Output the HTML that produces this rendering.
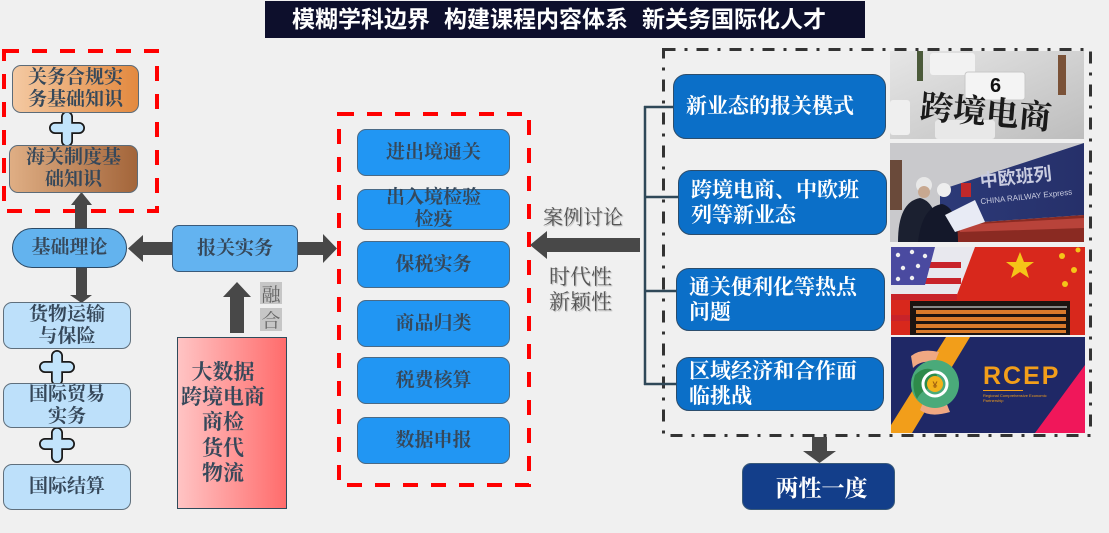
<!DOCTYPE html>
<html><head><meta charset="utf-8">
<style>
*{margin:0;padding:0;box-sizing:border-box}
body{width:1109px;height:533px;background:#f0f0f0;position:relative;overflow:hidden;font-family:"Liberation Serif","Noto Serif CJK SC",serif}
.b{position:absolute;display:flex;align-items:center;justify-content:center;text-align:center;font-weight:bold}
.dk{color:#36485a;font-size:19px;line-height:22px}
.or{background:linear-gradient(90deg,#f4c9a2,#e3893f);border:1.5px solid #5c6b78;border-radius:9px}
.br{background:linear-gradient(90deg,#dfae84,#a3653a);border:1.5px solid #5c6b78;border-radius:9px}
.lb{background:#bde0fa;border:1.5px solid #5f6f7c;border-radius:9px}
.mb{background:#2196f3;border:1px solid #4a6a86;border-radius:9px}
.rb{background:#0b6fc8;border:1.5px solid #2c4d6c;border-radius:13px;color:#fff;font-size:21px;line-height:25px;justify-content:flex-start;text-align:left;padding-left:12px}
.gl{position:absolute;color:#555;font-size:20px;line-height:24px;text-shadow:1px 1px 1px #b0b0b0;font-weight:normal}
svg{position:absolute;left:0;top:0}
</style></head><body>

<div style="position:absolute;left:265px;top:1px;width:600px;height:37px;background:#0d0f2c"></div>
<div style="position:absolute;left:292px;top:1px;height:37px;line-height:37px;color:#fff;font-family:'Liberation Sans','Noto Sans CJK SC',sans-serif;font-weight:bold;font-size:23px;white-space:nowrap">模糊学科边界<span style="margin-left:14px">构建课程内容体系</span><span style="margin-left:14px">新关务国际化人才</span></div>

<svg width="1109" height="533" viewBox="0 0 1109 533">
  <!-- red dashed boxes -->
  <rect x="4" y="51" width="153" height="160" fill="none" stroke="#ff0000" stroke-width="4" stroke-dasharray="15 13"/>
  <rect x="339" y="114" width="190" height="371" fill="none" stroke="#ff0000" stroke-width="4" stroke-dasharray="15 13"/>
  <!-- dash dot box -->
  <rect x="663.5" y="49.5" width="427" height="386" fill="none" stroke="#333" stroke-width="3" stroke-dasharray="12 9 3 9"/>
  <!-- bracket -->
  <g stroke="#2f4858" stroke-width="2.5" fill="none">
    <line x1="645" y1="106" x2="645" y2="385"/>
    <line x1="644" y1="107" x2="676" y2="107"/>
    <line x1="644" y1="197" x2="679" y2="197"/>
    <line x1="644" y1="291" x2="677" y2="291"/>
    <line x1="644" y1="384" x2="677" y2="384"/>
  </g>
  <!-- arrows -->
  <g fill="#484848">
    <polygon points="75,228 87,228 87,205 92,205 81.5,192 71,205 75,205"/>
    <polygon points="172,242 143,242 143,235 128,248.5 143,262 143,255 172,255"/>
    <polygon points="298,242 323,242 323,234 337,248.5 323,263 323,255 298,255"/>
    <polygon points="76,268 87,268 87,295 92,295 81.5,303 70,295 76,295"/>
    <polygon points="230,333 244,333 244,297 251,297 237,282 223,297 230,297"/>
    <polygon points="640,238 547,238 547,231 530,245 547,259 547,252 640,252"/>
    <polygon points="812,437 827,437 827,451 836,451 819.5,463 803,451 812,451"/>
  </g>
  <!-- plus signs -->
  <g stroke-linecap="round" fill="none">
    <g stroke="#1a1a1a" stroke-width="12">
      <path d="M67,117 V141 M55,128 H79"/>
      <path d="M57,356 V380 M45,367 H69"/>
      <path d="M57,433 V457 M45,444 H69"/>
    </g>
    <g stroke="#c2e4fb" stroke-width="8.5">
      <path d="M67,117 V141 M55,128 H79"/>
      <path d="M57,356 V380 M45,367 H69"/>
      <path d="M57,433 V457 M45,444 H69"/>
    </g>
  </g>

  <!-- image 1 -->
  <defs>
    <linearGradient id="g1" x1="0" y1="0" x2="1" y2="1"><stop offset="0" stop-color="#e6e6e6"/><stop offset="1" stop-color="#bdbdbd"/></linearGradient>
    <linearGradient id="g2" x1="0" y1="0" x2="1" y2="0"><stop offset="0" stop-color="#2c3a78"/><stop offset="1" stop-color="#26306a"/></linearGradient>
  </defs>
  <rect x="890" y="51" width="194" height="88" fill="url(#g1)"/>
  <rect x="930" y="53" width="45" height="22" rx="3" fill="#f2f2f2"/>
  <rect x="965" y="72" width="60" height="28" rx="3" fill="#f4f4f4" stroke="#c8c8c8"/>
  <rect x="890" y="100" width="20" height="35" rx="3" fill="#efefef"/>
  <rect x="935" y="120" width="60" height="19" rx="3" fill="#e8e8e8"/>
  <text x="990" y="92" font-size="20" font-weight="bold" fill="#111" font-family="Liberation Sans, sans-serif">6</text>
  <rect x="917" y="51" width="6" height="30" fill="#4b5a3a"/>
  <rect x="1058" y="55" width="8" height="40" fill="#7a5238"/>
  <text x="920" y="124" font-size="33" font-weight="bold" fill="#1a1a1a" font-family="Liberation Serif, Noto Serif CJK SC, serif" transform="rotate(5 990 112)">跨境电商</text>
  <!-- image 2 -->
  <rect x="890" y="143" width="194" height="99" fill="#c9c9cc"/>
  <polygon points="940,190 1084,143 1084,215 940,225" fill="url(#g2)"/>
  <polygon points="940,225 1084,215 1084,242 940,242" fill="#8a2a22"/>
  <polygon points="960,225 1084,218 1084,228 960,232" fill="#b8433a"/>
  <rect x="890" y="160" width="12" height="50" fill="#6a4a3a"/>
  <text x="980" y="183" font-size="18" font-weight="bold" fill="#c9cce0" font-family="Liberation Sans, Noto Sans CJK SC, sans-serif" transform="rotate(-6 1020 180)">中欧班列</text>
  <text x="980" y="200" font-size="8" fill="#c9cce0" font-family="Liberation Sans, sans-serif" transform="rotate(-6 1020 195)">CHINA RAILWAY Express</text>
  <rect x="961" y="183" width="10" height="14" fill="#c0282a"/>
  <path d="M898,242 q0,-40 22,-44 q18,4 20,44 z" fill="#1b2030"/>
  <circle cx="924" cy="185" r="8" fill="#e8e8e8"/>
  <circle cx="924" cy="192" r="6" fill="#c8a890"/>
  <path d="M918,242 q4,-35 24,-38 q16,4 16,38 z" fill="#14182a"/>
  <circle cx="944" cy="190" r="7" fill="#eee"/>
  <polygon points="945,215 975,200 985,222 955,232" fill="#e8ebf5"/>
  <!-- image 3 -->
  <rect x="891" y="247" width="194" height="88" fill="#d8281c"/>
  <polygon points="891,247 975,247 955,300 891,300" fill="#e8e8ee"/>
  <g fill="#c8232a"><rect x="891" y="262" width="70" height="6"/><rect x="891" y="278" width="70" height="6"/><rect x="891" y="294" width="66" height="6"/><rect x="891" y="315" width="20" height="6"/></g>
  <polygon points="891,247 935,247 925,285 891,285" fill="#4a4aa0"/>
  <g fill="#f0f0f0"><circle cx="898" cy="255" r="2.2"/><circle cx="912" cy="252" r="2.2"/><circle cx="925" cy="256" r="2.2"/><circle cx="903" cy="268" r="2.2"/><circle cx="918" cy="266" r="2.2"/><circle cx="898" cy="279" r="2.2"/><circle cx="912" cy="278" r="2.2"/></g>
  <g fill="#f5c518"><polygon points="1020,252 1024,262 1034,262 1026,268 1029,278 1020,272 1011,278 1014,268 1006,262 1016,262"/><circle cx="1062" cy="256" r="3"/><circle cx="1074" cy="270" r="3"/><circle cx="1065" cy="284" r="3"/><circle cx="1078" cy="250" r="2.5"/></g>
  <rect x="910" y="301" width="160" height="34" fill="#1c1410"/>
  <rect x="913" y="306" width="154" height="2" fill="#888"/>
  <g fill="#d97a2a">
    <rect x="916" y="310" width="150" height="4"/><rect x="916" y="317" width="150" height="4"/><rect x="916" y="324" width="150" height="4"/><rect x="916" y="330" width="150" height="3"/>
  </g>
  <!-- image 4 -->
  <rect x="891" y="337" width="194" height="96" fill="#1f2866"/>
  <polygon points="946,337 970,337 912,433 891,433 891,425" fill="#f29e1a"/>
  <polygon points="1085,365 1085,433 1035,433" fill="#f0175a"/>
  <path d="M911,356 q10,-8 28,-4 l-4,10 q-15,-2 -22,6 z" fill="#f0a882"/>
  <path d="M920,410 q10,8 30,2 l-4,-10 q-14,4 -22,-2 z" fill="#f0a882"/>
  <circle cx="935" cy="384" r="24" fill="#4aaa7a"/>
  <path d="M915,375 q10,-10 20,-4 q6,10 -4,16 q-10,4 -14,12 q-6,-12 -2,-24z" fill="#2e8a4a"/>
  <circle cx="935" cy="384" r="12" fill="none" stroke="#fff" stroke-width="3"/>
  <circle cx="935" cy="384" r="8" fill="#f2b21a"/>
  <text x="935" y="388" font-size="9" text-anchor="middle" fill="#a06010" font-weight="bold" font-family="Liberation Sans, sans-serif">¥</text>
  <text x="983" y="384" font-size="25" font-weight="bold" fill="#f29e1a" font-family="Liberation Sans, sans-serif" letter-spacing="2">RCEP</text>
  <rect x="983" y="390" width="40" height="1" fill="#f29e1a"/>
  <text x="983" y="397" font-size="4" fill="#f29e1a" font-family="Liberation Sans, sans-serif">Regional Comprehensive Economic</text>
  <text x="983" y="402" font-size="4" fill="#f29e1a" font-family="Liberation Sans, sans-serif">Partnership</text>
</svg>

<!-- left column -->
<div class="b dk or" style="left:12px;top:65px;width:127px;height:48px">关务合规实<br>务基础知识</div>
<div class="b dk br" style="left:9px;top:145px;width:129px;height:48px">海关制度基<br>础知识</div>
<div class="b dk" style="left:12px;top:228px;width:115px;height:40px;background:#63b3ee;border:1.5px solid #2c4a66;border-radius:20px">基础理论</div>
<div class="b dk" style="left:172px;top:225px;width:126px;height:47px;background:#63b3f0;border:1.5px solid #3a5a7a;border-radius:7px">报关实务</div>
<div class="b dk lb" style="left:3px;top:302px;width:128px;height:47px">货物运输<br>与保险</div>
<div class="b dk lb" style="left:3px;top:383px;width:128px;height:45px">国际贸易<br>实务</div>
<div class="b dk lb" style="left:3px;top:464px;width:128px;height:46px">国际结算</div>

<div class="b" style="left:260px;top:282px;width:22px;height:22px;background:#c6c6c6;color:#666;font-size:19px;font-weight:normal">融</div>
<div class="b" style="left:260px;top:308px;width:22px;height:23px;background:#c6c6c6;color:#666;font-size:19px;font-weight:normal">合</div>

<div class="b dk" style="left:177px;top:337px;width:110px;height:172px;background:linear-gradient(90deg,#ffc4c4,#ff6c6c);border:1.5px solid #2e4a5a;font-size:21px;line-height:25.3px;padding-right:18px;white-space:nowrap;border-radius:0">大数据<br>跨境电商<br>商检<br>货代<br>物流</div>

<!-- middle column -->
<div class="b dk mb" style="left:357px;top:129px;width:153px;height:47px">进出境通关</div>
<div class="b dk mb" style="left:357px;top:189px;width:153px;height:41px;line-height:22px;padding-bottom:2px">出入境检验<br>检疫</div>
<div class="b dk mb" style="left:357px;top:241px;width:153px;height:47px">保税实务</div>
<div class="b dk mb" style="left:357px;top:300px;width:153px;height:47px">商品归类</div>
<div class="b dk mb" style="left:357px;top:357px;width:153px;height:47px">税费核算</div>
<div class="b dk mb" style="left:357px;top:417px;width:153px;height:47px">数据申报</div>

<div class="gl" style="left:543px;top:206px">案例讨论</div>
<div class="gl" style="left:549px;top:265px;font-size:21px;line-height:25px">时代性<br>新颖性</div>

<!-- right column -->
<div class="b rb" style="left:673px;top:74px;width:213px;height:65px">新业态的报关模式</div>
<div class="b rb" style="left:678px;top:170px;width:209px;height:65px">跨境电商、中欧班<br>列等新业态</div>
<div class="b rb" style="left:676px;top:268px;width:209px;height:63px">通关便利化等热点<br>问题</div>
<div class="b rb" style="left:676px;top:357px;width:208px;height:54px">区域经济和合作面<br>临挑战</div>

<div class="b" style="left:742px;top:463px;width:153px;height:47px;background:#133e8a;border:1.5px solid #3a5a7a;border-radius:9px;color:#fff;font-size:23px;padding-left:6px">两性一度</div>

</body></html>
